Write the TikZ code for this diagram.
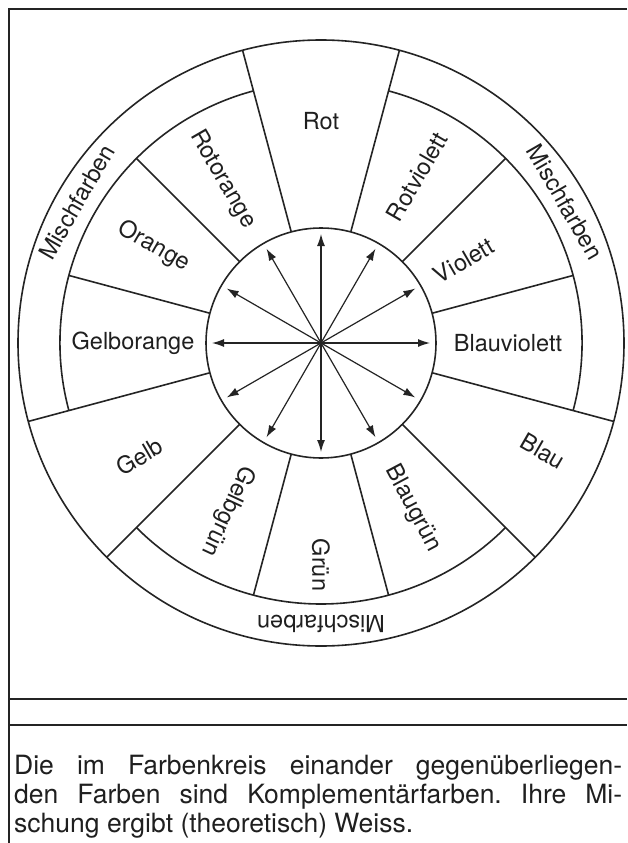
\documentclass[tikz,border=0pt]{standalone}
\usepackage{fontspec}
\setmainfont{TeX Gyre Heros}
\usetikzlibrary{arrows.meta}
\begin{document}
\begin{tikzpicture}[x=1pt,y=1pt,
  ink/.style={draw=black!86},
  frameline/.style={ink, line width=1.6pt},
  wheel/.style={ink, line width=1.6pt},
  arr/.style={ink, line width=1.2pt, {Latex[length=12pt,width=8pt]}-{Latex[length=12pt,width=8pt]}},
  lab/.style={inner sep=0pt, text=black!88, font=\fontsize{23.5}{27}\selectfont},
  captext/.style={inner sep=0pt, anchor=north west, text width=608pt, align=justify, text=black!88,
    font=\fontsize{26.5}{28.8}\selectfont\frenchspacing}]
\useasboundingbox (0,0) rectangle (627,-843);
\fill[white] (0,0) rectangle (627,-843);
% frame
\coordinate (ftl) at (9,-9);
\coordinate (ftr) at (627,-9);
\coordinate (fbl) at (9,-843);
\coordinate (h1l) at (9,-699);
\coordinate (h1r) at (627,-699);
\coordinate (h2l) at (9,-725);
\coordinate (h2r) at (627,-725);
\draw[frameline] (ftr) -- (ftl) -- (fbl);
\draw[frameline] (h1l) -- (h1r);
\draw[frameline] (h2l) -- (h2r);
% wheel
\begin{scope}[shift={(321,-343)}]
  \coordinate (c) at (0,0);
  \draw[wheel] (c) circle[radius=115];
  \draw[wheel] (c) circle[radius=303];
  % inner arcs of the three Mischfarben rings
  \draw[wheel] (105:261) arc[start angle=105, end angle=195, radius=261];
  \draw[wheel] (-15:261) arc[start angle=-15, end angle=75, radius=261];
  \draw[wheel] (-135:261) arc[start angle=-135, end angle=-45, radius=261];
  % boundaries reaching the outer circle
  \foreach \t in {105,195,75,-15,-45,-135}
    \draw[wheel] (\t:115) -- (\t:303);
  % boundaries inside the rings
  \foreach \t in {135,165,15,45,-75,-105}
    \draw[wheel] (\t:115) -- (\t:261);
  % arrows
  \foreach \a in {0,30,...,330}
    \coordinate (a\a) at (\a:109);
  \draw[arr] (a0) -- (a180);
  \draw[arr] (a30) -- (a210);
  \draw[arr] (a60) -- (a240);
  \draw[arr] (a90) -- (a270);
  \draw[arr] (a120) -- (a300);
  \draw[arr] (a150) -- (a330);
  % colour labels
  \node[lab] (rot) at (90:222) {Rot};
  \node[lab, rotate=60] (rotviolett) at (60:192) {Rotviolett};
  \node[lab, rotate=30] (violett) at (30:165) {Violett};
  \node[lab] (blauviolett) at (0:187) {Blauviolett};
  \node[lab, rotate=-30] (blau) at (-26:247) {Blau};
  \node[lab, rotate=-62] (blaugruen) at (-61:189) {Blaugrün};
  \node[lab, rotate=-90] (gruen) at (-90:222) {Grün};
  \node[lab, rotate=-115] (gelbgruen) at (-119:192) {Gelbgrün};
  \node[lab, rotate=30] (gelb) at (212:214) {Gelb};
  \node[lab] (gelborange) at (180:188) {Gelborange};
  \node[lab, rotate=-30] (orange) at (150:193) {Orange};
  \node[lab, rotate=-60] (rotorange) at (121:191) {Rotorange};
  % Mischfarben labels
  \node[lab, rotate=60] (misch1) at (150:282) {Mischfarben};
  \node[lab, rotate=-60] (misch2) at (30:282) {Mischfarben};
  \node[lab, rotate=180] (misch3) at (-90:281) {Mischfarben};
\end{scope}
% caption
\node[captext] (caption) at (14,-755) {Die im Farbenkreis einander gegenüberliegen-\linebreak den Farben sind Komplementärfarben. Ihre Mi-\linebreak schung ergibt (theoretisch) Weiss.};
\end{tikzpicture}
\end{document}
